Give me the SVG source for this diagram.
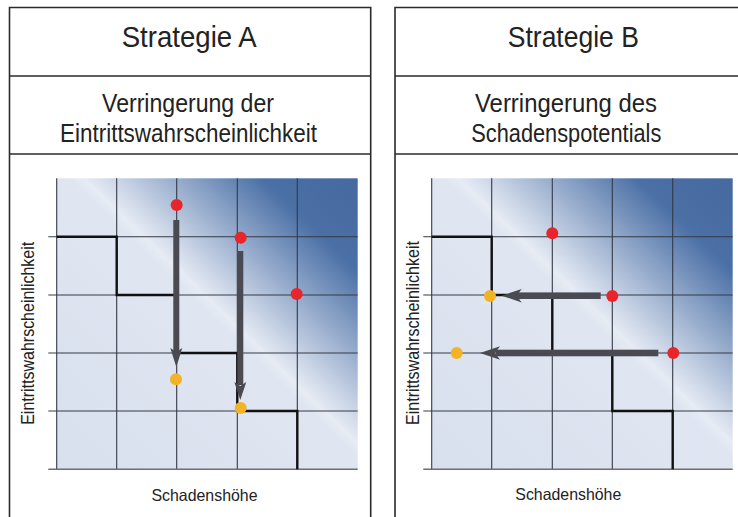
<svg xmlns="http://www.w3.org/2000/svg" width="738" height="517" viewBox="0 0 738 517">
<style>
.frame{stroke:#2b2b2b;stroke-width:1.6;fill:none}
.t{font-family:"Liberation Sans",Arial,sans-serif;fill:#222;text-anchor:middle}
.title{font-size:30px}
.sub{font-size:26px}
.ax{font-size:16.5px}
.ay{font-size:19px}
.grid{stroke:#353a46;stroke-width:1.1;fill:none}
.base{stroke:#6b6e75;stroke-width:1.6;fill:none}
.stair{stroke:#111;stroke-width:2.4;fill:none;stroke-linejoin:miter}
.arr{fill:#4a4b52}
.red{fill:#e8252b}
.yel{fill:#f2b327}
</style>
<defs>
<linearGradient id="bg" x1="0" y1="1" x2="1" y2="0">
<stop offset="0" stop-color="#d8e0ee"/>
<stop offset="0.52" stop-color="#e0e6f1"/>
<stop offset="0.545" stop-color="#e6ebf4"/>
<stop offset="0.84" stop-color="#4b70a6"/>
<stop offset="1" stop-color="#46699f"/>
</linearGradient>
</defs>
<rect width="738" height="517" fill="#fff"/>

<g id="panelA">
<path class="frame" d="M9.5,517 V7.5 H370.7 V517 M9.5,76 H370.7 M9.5,154 H370.7"/>
<text class="t title" x="189.2" y="47" textLength="135" lengthAdjust="spacingAndGlyphs">Strategie A</text>
<text class="t sub" x="188" y="112" textLength="172" lengthAdjust="spacingAndGlyphs">Verringerung der</text>
<text class="t sub" x="188.5" y="141.7" textLength="257" lengthAdjust="spacingAndGlyphs">Eintrittswahrscheinlichkeit</text>
</g>

<g id="chartA">
<rect x="56.7" y="178.3" width="301" height="291" fill="url(#bg)"/>
<path class="grid" d="M56.7,178.3 V469.3 M116.7,178.3 V469.3 M176.7,178.3 V469.3 M237.3,178.3 V469.3 M297.3,178.3 V469.3 M48.3,236.7 H357.7 M48.3,295 H357.7 M48.3,353 H357.7 M48.3,411 H357.7"/>
<path class="base" d="M48.3,469.3 H357.7"/>
<path class="stair" d="M56.7,236.7 H116.7 V295 H176.7 V353 H237.3 V411 H297.3 V469.3"/>
<text class="t ay" transform="translate(34.3,333.3) rotate(-90)" textLength="183" lengthAdjust="spacingAndGlyphs">Eintrittswahrscheinlichkeit</text>
<text class="t ax" x="204.5" y="500.5" textLength="106" lengthAdjust="spacingAndGlyphs">Schadenshöhe</text>
</g>

<g id="panelB">
<path class="frame" d="M395,517 V7.5 H738 M395,76 H738 M395,154 H738"/>
<text class="t title" x="573.3" y="47" textLength="131" lengthAdjust="spacingAndGlyphs">Strategie B</text>
<text class="t sub" x="566" y="112" textLength="182" lengthAdjust="spacingAndGlyphs">Verringerung des</text>
<text class="t sub" x="566.3" y="141.7" textLength="190" lengthAdjust="spacingAndGlyphs">Schadenspotentials</text>
</g>

<g id="chartB">
<rect x="431.7" y="178.3" width="301" height="291" fill="url(#bg)"/>
<path class="grid" d="M431.7,178.3 V469.3 M491.7,178.3 V469.3 M552.3,178.3 V469.3 M612.3,178.3 V469.3 M672.7,178.3 V469.3 M423.3,236.7 H732.7 M423.3,295 H732.7 M423.3,353 H732.7 M423.3,411 H732.7"/>
<path class="base" d="M423.3,469.3 H732.7"/>
<path class="stair" d="M431.7,236.7 H491.7 V295 H552.3 V353 H612.3 V411 H672.7 V469.3"/>
<text class="t ay" transform="translate(419,333) rotate(-90)" textLength="184" lengthAdjust="spacingAndGlyphs">Eintrittswahrscheinlichkeit</text>
<text class="t ax" x="568.3" y="500" textLength="106" lengthAdjust="spacingAndGlyphs">Schadenshöhe</text>
</g>

<g id="connectors">
<g id="arrowA1" class="arr">
<rect x="173.3" y="220" width="6" height="132"/>
<path d="M170.3,348 L176.3,367 L182.3,348 L176.3,352 Z"/>
</g>
<g id="arrowA2" class="arr">
<rect x="237.3" y="251" width="6" height="134"/>
<path d="M234.3,382 L240.3,400 L246.3,382 L240.3,386 Z"/>
</g>
<g id="arrowB1" class="arr">
<rect x="517" y="292.4" width="83.7" height="6.6"/>
<path d="M521.7,289 L501.7,295.7 L521.7,302.4 L516.7,295.7 Z"/>
</g>
<g id="arrowB2" class="arr">
<rect x="496" y="349.7" width="162.3" height="6.6"/>
<path d="M500,346.3 L480,353 L500,359.7 L495,353 Z"/>
</g>
</g>

<g id="pointsA">
<circle id="a_r1" class="red" cx="176.7" cy="205" r="6"/>
<circle id="a_r2" class="red" cx="240.7" cy="237.7" r="6"/>
<circle id="a_r3" class="red" cx="296.7" cy="294" r="6"/>
<circle id="a_y1" class="yel" cx="176" cy="379.3" r="6"/>
<circle id="a_y2" class="yel" cx="240.7" cy="408" r="6"/>
</g>
<g id="pointsB">
<circle id="b_r1" class="red" cx="552.3" cy="233.3" r="6"/>
<circle id="b_r2" class="red" cx="612.3" cy="296" r="6"/>
<circle id="b_r3" class="red" cx="673.3" cy="353" r="6"/>
<circle id="b_y1" class="yel" cx="490" cy="296" r="6"/>
<circle id="b_y2" class="yel" cx="456.7" cy="353" r="6"/>
</g>
</svg>
